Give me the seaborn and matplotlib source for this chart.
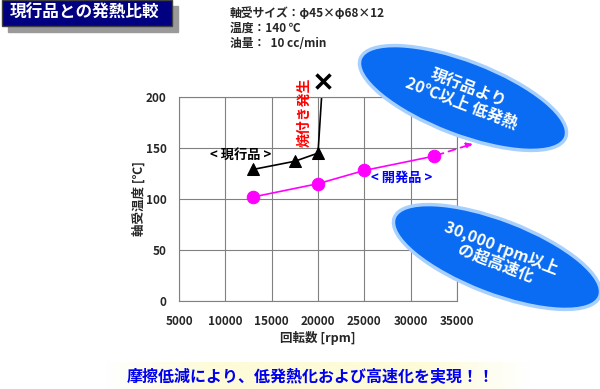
import numpy as np
import matplotlib
matplotlib.use('Agg')
import matplotlib.pyplot as plt
import seaborn as sns
from matplotlib.patches import Ellipse, Rectangle

# data
cur_rpm = [13000, 17500, 20000]
cur_temp = [129, 137, 145]
seize_rpm = [20000, 20500]
seize_temp = [145, 216]
dev_rpm = [13000, 20000, 25000, 32500]
dev_temp = [102, 115, 128, 142]
dev_ext_rpm = [32500, 37000]
dev_ext_temp = [142, 155]
x_ticks = [5000, 10000, 15000, 20000, 25000, 30000, 35000]
y_ticks = [0, 50, 100, 150, 200]

sns.set_style('whitegrid')
plt.rcParams['font.family'] = ['Noto Sans CJK JP', 'DejaVu Sans']

fig = plt.figure(figsize=(6, 3.89), dpi=100)
ax = fig.add_axes([179 / 600, 1 - 301 / 389, 278 / 600, 204 / 389])

sns.lineplot(x=cur_rpm, y=cur_temp, ax=ax, color='black', marker='^', markersize=8,
             markeredgecolor='black', linewidth=1.2)
sns.lineplot(x=seize_rpm, y=seize_temp, ax=ax, color='black', linewidth=1.2)
ax.plot(seize_rpm[-1:], seize_temp[-1:], marker='x', color='black', markersize=10,
        markeredgewidth=2.5, clip_on=False, linestyle='none')
sns.lineplot(x=dev_rpm, y=dev_temp, ax=ax, color='#ff00ff', marker='o', markersize=9,
             markeredgecolor='#ff00ff', linewidth=1.2)
ax.annotate('', xy=(dev_ext_rpm[1], dev_ext_temp[1]), xytext=(dev_ext_rpm[0], dev_ext_temp[0]),
            xycoords='data', annotation_clip=False,
            arrowprops=dict(arrowstyle='-|>', color='#ff00ff', linestyle=(0, (4, 3)),
                            linewidth=1.3, mutation_scale=9))

ax.set_xlim(5000, 35000)
ax.set_ylim(0, 200)
ax.set_xticks(x_ticks)
ax.set_yticks(y_ticks)
ax.tick_params(labelsize=8.5, length=0)
ax.tick_params(axis='x', pad=10)
ax.tick_params(axis='y', pad=9)
for lab in ax.get_xticklabels() + ax.get_yticklabels():
    lab.set_fontweight('bold')
ax.grid(color='#808080', linewidth=0.8)
for s in ax.spines.values():
    s.set_color('#808080')
    s.set_linewidth(0.8)
ax.set_xlabel('回転数 [rpm]', fontsize=9, fontweight='bold', labelpad=2)
ax.set_ylabel('軸受温度 [℃]', fontsize=9, fontweight='bold', labelpad=0)

ax.text(11700, 143, '< 現行品 >', fontsize=9.5, fontweight='bold', color='black',
        ha='center', va='center')
ax.text(29000, 121, '< 開発品 >', fontsize=9.5, fontweight='bold', color='#0000ff',
        ha='center', va='center')
ax.text(18500, 185, '焼付き発生', fontsize=10, fontweight='bold', color='#ff0000',
        rotation=90, ha='center', va='center')

# overlay in pixel coordinates for decorations
ov = fig.add_axes([0, 0, 1, 1], zorder=5)
ov.set_xlim(0, 600)
ov.set_ylim(389, 0)
ov.axis('off')
ov.patch.set_alpha(0)

# title box
ov.add_patch(Rectangle((8, 6), 170, 26, color='#9a9a9a', zorder=1))
ov.add_patch(Rectangle((2, 0), 170, 26, facecolor='#000080', edgecolor='#404040', zorder=2))
ov.text(10, 13, '現行品との発熱比較', color='white', fontsize=12, fontweight='bold',
        va='center', ha='left', zorder=3)

ov.text(230, 13, '軸受サイズ：φ45×φ68×12', fontsize=8.5, fontweight='bold', va='center')
ov.text(230, 28, '温度：140 ℃', fontsize=8.5, fontweight='bold', va='center')
ov.text(230, 43, '油量：  10 cc/min', fontsize=8.5, fontweight='bold', va='center')

# blue ellipses
for cx, cy, txt in [(463, 98, '現行品より\n20℃以上 低発熱'),
                    (497, 257, '30,000 rpm以上\nの超高速化')]:
    ov.add_patch(Ellipse((cx, cy), 220, 74, angle=21, facecolor='#0a6cf2',
                         edgecolor='#a8d0ff', linewidth=2.5, zorder=2))
    ov.text(cx + 2, cy - 2, txt, color='white', fontsize=11.5, fontweight='bold',
            ha='center', va='center', rotation=-21, linespacing=1.0, zorder=3)

# bottom banner
grad = np.concatenate([np.linspace(0, 1, 50), np.ones(100), np.linspace(1, 0, 50)])[None, :]
cmap = matplotlib.colors.LinearSegmentedColormap.from_list('yl', ['#ffffff', '#fdfbd8'])
ov.imshow(grad, extent=(105, 530, 389, 362), cmap=cmap, aspect='auto', zorder=1)
ov.text(311, 376, '摩擦低減により、低発熱化および高速化を実現！！', color='#0000ee',
        fontsize=11.5, fontweight='bold', style='italic', ha='center', va='center', zorder=3)
ov.set_xlim(0, 600)
ov.set_ylim(389, 0)

fig.savefig('out.png', dpi=100)
